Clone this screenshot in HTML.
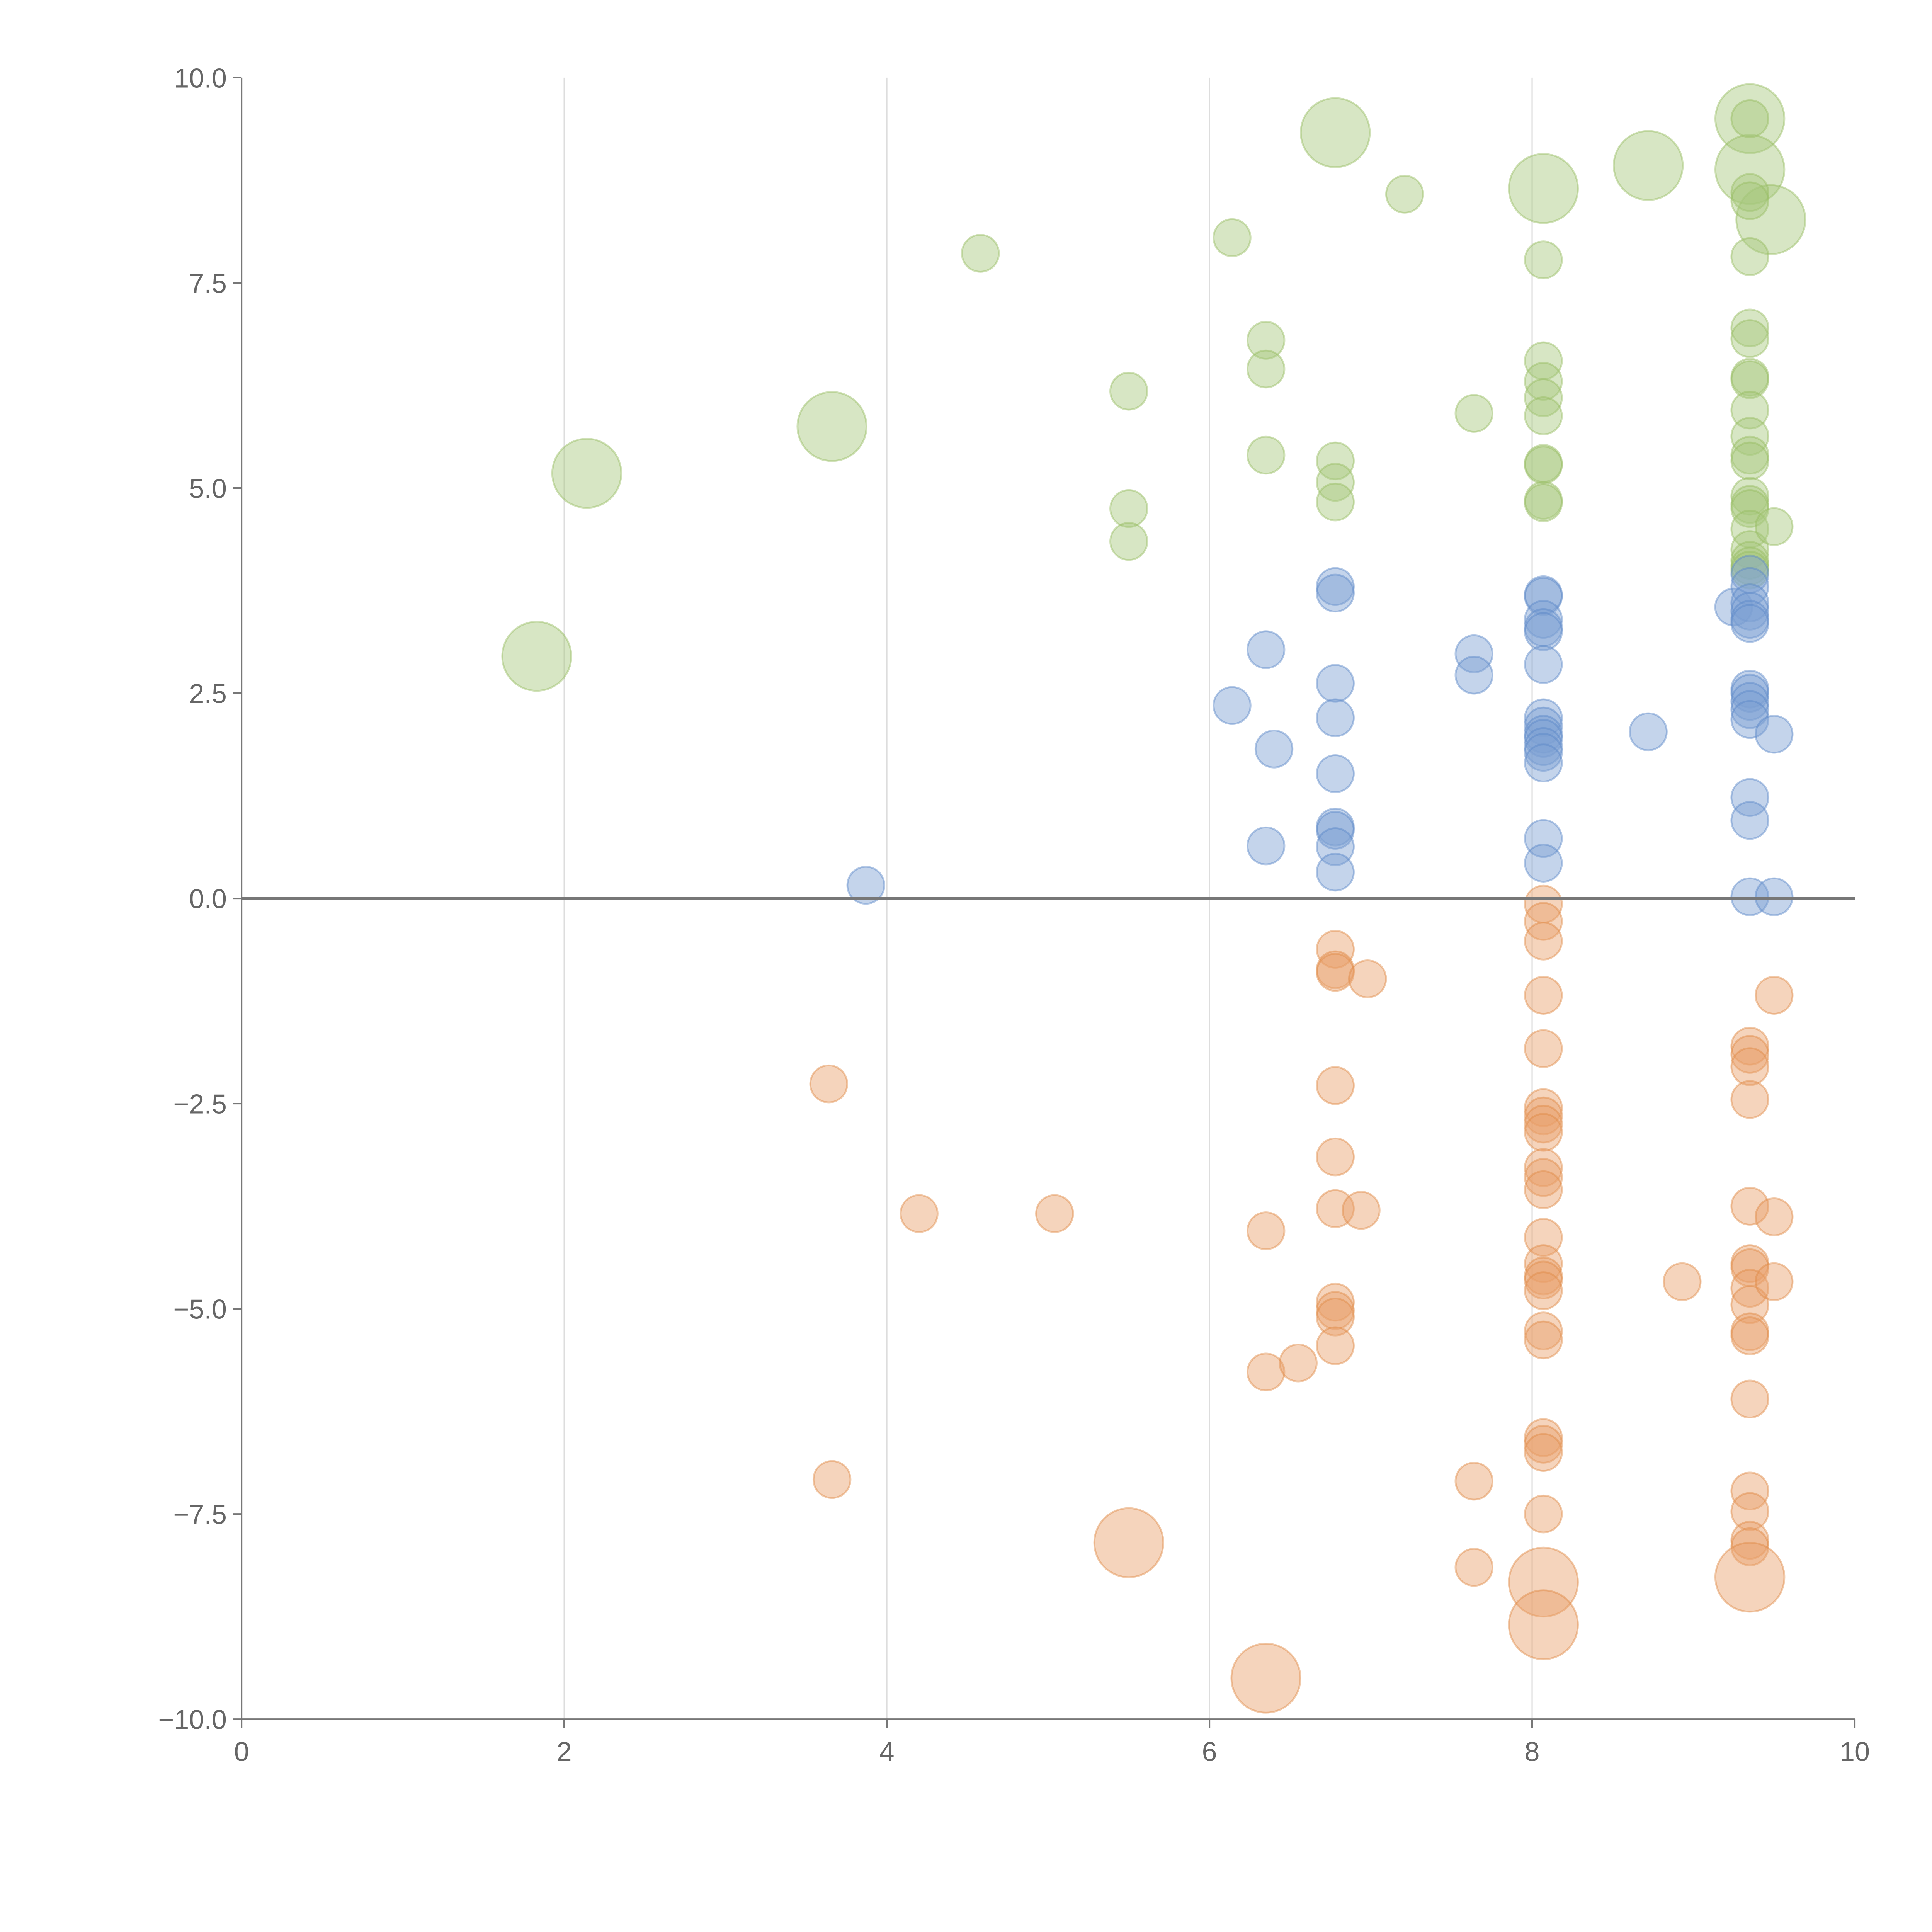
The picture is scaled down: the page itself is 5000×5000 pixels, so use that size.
<!DOCTYPE html>
<html><head><meta charset="utf-8"><style>
html,body{margin:0;padding:0;background:#fff;}
svg{display:block;}
text{font-family:"Liberation Sans",sans-serif;fill:#666;}
</style></head><body>
<svg id="chart" width="5000" height="5000" viewBox="0 0 1567.7 1567.7" xmlns="http://www.w3.org/2000/svg">
<rect width="1567.7" height="1567.7" fill="#fff"/>
<g id="grid"></g><g id="marks"></g><g id="axes"></g>
</svg>
<script>
const xTicks=[0,2,4,6,8,10];
const yTicks=[-10,-7.5,-5,-2.5,0,2.5,5,7.5,10];
const yTickLabels=["\u221210.0","\u22127.5","\u22125.0","\u22122.5","0.0","2.5","5.0","7.5","10.0"];
const greenX=[1.83,2.14,3.66,6.78,8.07,8.72,9.35,9.35,9.48,4.58,6.14,7.21,5.5,5.5,5.5,6.35,6.35,6.35,6.78,6.78,6.78,7.64,8.07,8.07,8.07,8.07,8.07,8.07,8.07,8.07,8.07,9.35,9.35,9.35,9.35,9.35,9.35,9.35,9.35,9.35,9.35,9.35,9.35,9.35,9.35,9.35,9.35,9.35,9.35,9.35,9.35,9.5];
const greenY=[2.95,5.18,5.75,9.33,8.65,8.93,9.5,8.88,8.27,7.86,8.05,8.58,6.18,4.75,4.35,6.8,6.45,5.4,5.33,5.07,4.83,5.91,7.78,6.55,6.3,6.1,5.88,5.3,5.28,4.85,4.82,9.5,8.6,8.5,7.82,6.95,6.82,6.35,6.32,5.95,5.63,5.4,5.33,4.9,4.8,4.75,4.5,4.25,4.12,4.05,4.0,4.53];
const greenSize=[2,2,2,2,2,2,2,2,2,1,1,1,1,1,1,1,1,1,1,1,1,1,1,1,1,1,1,1,1,1,1,1,1,1,1,1,1,1,1,1,1,1,1,1,1,1,1,1,1,1,1,1];
const blueX=[3.87,6.14,6.35,6.4,6.35,6.78,6.78,6.78,6.78,6.78,6.78,6.78,6.78,6.78,7.64,7.64,8.07,8.07,8.07,8.07,8.07,8.07,8.07,8.07,8.07,8.07,8.07,8.07,8.07,8.07,8.07,8.72,9.25,9.35,9.35,9.35,9.35,9.35,9.35,9.35,9.35,9.35,9.35,9.35,9.35,9.35,9.35,9.5,9.5];
const blueY=[0.16,2.35,3.03,1.82,0.64,3.8,3.72,2.62,2.2,1.52,0.87,0.83,0.63,0.32,2.98,2.72,3.7,3.68,3.4,3.3,3.25,2.85,2.2,2.1,2.0,1.95,1.85,1.78,1.65,0.73,0.43,2.03,3.55,3.95,3.8,3.6,3.5,3.4,3.35,2.55,2.5,2.4,2.3,2.18,1.23,0.95,0.02,0.02,2.0];
const orangeX=[3.64,3.66,4.2,5.04,6.35,6.35,6.55,6.78,6.78,6.78,6.98,6.78,6.78,6.78,6.94,6.78,6.78,6.78,6.78,7.64,7.64,8.07,8.07,8.07,8.07,8.07,8.07,8.07,8.07,8.07,8.07,8.07,8.07,8.07,8.07,8.07,8.07,8.07,8.07,8.07,8.07,8.07,8.07,8.07,8.93,9.35,9.35,9.35,9.35,9.35,9.35,9.35,9.35,9.35,9.35,9.35,9.35,9.35,9.35,9.35,9.35,9.5,9.5,9.5,5.5,6.35,8.07,8.07,9.35];
const orangeY=[-2.26,-7.08,-3.84,-3.84,-4.05,-5.77,-5.66,-0.62,-0.87,-0.9,-0.98,-2.28,-3.15,-3.78,-3.8,-4.92,-5.02,-5.1,-5.45,-7.1,-8.15,-0.07,-0.28,-0.52,-1.18,-1.83,-2.55,-2.65,-2.75,-2.85,-3.28,-3.4,-3.55,-4.13,-4.45,-4.6,-4.65,-4.78,-5.27,-5.38,-6.57,-6.65,-6.75,-7.5,-4.67,-1.8,-1.9,-2.05,-2.45,-3.75,-4.45,-4.5,-4.75,-4.95,-5.28,-5.33,-6.1,-7.22,-7.47,-7.82,-7.9,-1.18,-3.88,-4.67,-7.85,-9.5,-8.33,-8.85,-8.27];
const orangeSize=orangeX.map((_,i)=>i>=64?2:1);
const blueSize=blueX.map(()=>1);

const NS="http://www.w3.org/2000/svg";
const L=196,R=1505,T=63,B=1395;
function xs(v){return L+(v-0)/(10-0)*(R-L);}
function ys(v){return B-(v+10)/20*(B-T);}
function rs(s){return s===2?28:15;}
function mk(tag,attrs,parent){const e=document.createElementNS(NS,tag);for(const k in attrs)e.setAttribute(k,attrs[k]);parent.appendChild(e);return e;}
const grid=document.getElementById('grid'),marks=document.getElementById('marks'),axes=document.getElementById('axes');
xTicks.forEach(t=>{if(t>0&&t<10){const g=mk('line',{x1:xs(t),x2:xs(t),y1:T,y2:B,stroke:'#ddd','stroke-width':1},grid);

}});
function series(X,Y,S,fill,stroke,name){
 X.forEach((x,i)=>{const c=mk('circle',{cx:xs(x),cy:ys(Y[i]),r:rs(S[i]),fill:fill,'fill-opacity':0.45,stroke:stroke,'stroke-opacity':0.45,'stroke-width':1.5},marks);
 
 });
}
series(greenX,greenY,greenSize,'#a6c77c','#96bc62','green-bubble');
series(blueX,blueY,blueSize,'#7c9fd3','#5b87c8','blue-bubble');
series(orangeX,orangeY,orangeSize,'#e8a06a','#e08a45','orange-bubble');
const z=mk('line',{x1:L,x2:R,y1:ys(0),y2:ys(0),stroke:'#777','stroke-width':2.5},axes);


const ya=mk('line',{x1:L,x2:L,y1:T,y2:B,stroke:'#777','stroke-width':1.3},axes);


const xa=mk('line',{x1:L,x2:R,y1:B,y2:B,stroke:'#777','stroke-width':1.3},axes);


xTicks.forEach(t=>{mk('line',{x1:xs(t),x2:xs(t),y1:B,y2:B+7,stroke:'#777','stroke-width':1.3},axes);
 const tx=mk('text',{x:xs(t),y:B+34,'text-anchor':'middle','font-size':22},axes);tx.textContent=t;
 
 });
yTicks.forEach((t,i)=>{mk('line',{x1:L-7,x2:L,y1:ys(t),y2:ys(t),stroke:'#777','stroke-width':1.3},axes);
 const tx=mk('text',{x:L-12,y:ys(t)+8,'text-anchor':'end','font-size':22},axes);tx.textContent=yTickLabels[i];
 
 });
</script>
</body></html>
